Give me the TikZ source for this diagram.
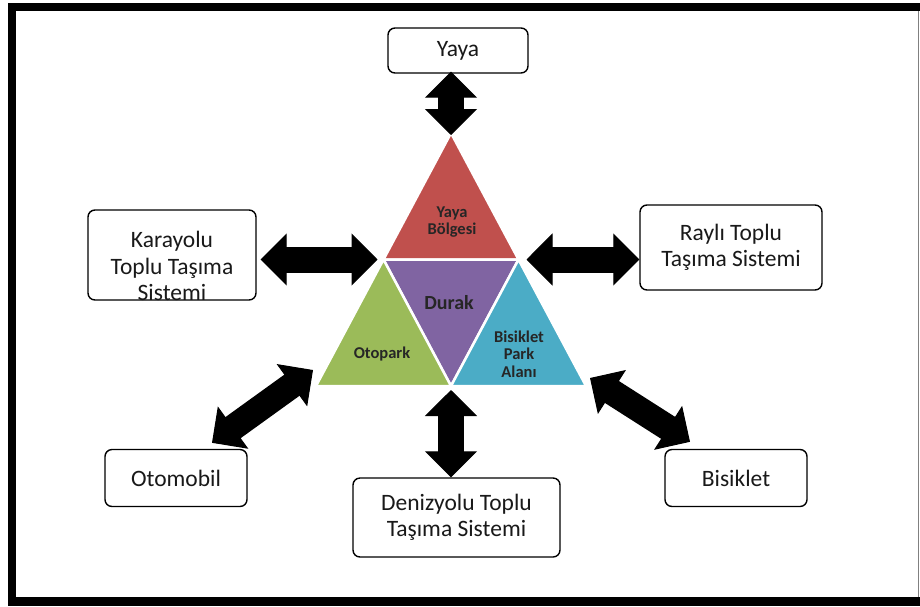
\documentclass[tikz,border=0pt]{standalone}
\usepackage{fontspec}
\setmainfont{Carlito}
\usetikzlibrary{arrows.meta,positioning}
\definecolor{yayacolor}{RGB}{192, 80, 77}
\definecolor{durakcolor}{RGB}{128, 100, 162}
\definecolor{otoparkcolor}{RGB}{155, 187, 89}
\definecolor{bisikletcolor}{RGB}{75, 172, 198}

\begin{document}
\begin{tikzpicture}[
    x=1pt, y=-1pt,
    box/.style={rectangle, draw, line width=1.4pt, rounded corners=7pt, fill=white, align=center, inner sep=0pt},
    boxtext/.style={align=center, text=black!90, font=\fontsize{23.5}{26.5}\selectfont},
    zone/.style={align=center, text=black!85, font=\bfseries\fontsize{16.5}{17.5}\selectfont},
    piece/.style={draw=white, line width=2.5pt, line join=miter},
    link/.style={line width=26pt, shorten <=20pt, shorten >=20pt,
        postaction={draw, line width=1pt, shorten <=0pt, shorten >=0pt,
            {Triangle[length=26pt,width=52pt]}-{Triangle[length=26pt,width=52pt]}}},
]
    \useasboundingbox (0,0) rectangle (920,606);

    % Frame
    \fill (8,3) rectangle (920,11);
    \fill (8,3) rectangle (16,606);
    \fill (8,597) rectangle (920,606);
    \draw[gray, line width=1pt] (918,11) -- (918,597);

    % === TRIANGLE ===
    \coordinate (apex) at (451,133);
    \coordinate (bl) at (316,386);
    \coordinate (br) at (586,386);
    \coordinate (ml) at (383.5,259.5);
    \coordinate (mr) at (518.5,259.5);
    \coordinate (mb) at (451,386);

    \path[piece, fill=yayacolor] (apex) -- (ml) -- (mr) -- cycle;
    \path[piece, fill=durakcolor] (ml) -- (mr) -- (mb) -- cycle;
    \path[piece, fill=otoparkcolor] (ml) -- (mb) -- (bl) -- cycle;
    \path[piece, fill=bisikletcolor] (mr) -- (br) -- (mb) -- cycle;

    \node[zone] (bolge) at (452,222) {Yaya\\Bölgesi};
    \node[zone, font=\bfseries\fontsize{20}{21}\selectfont] (durak) at (449,303) {Durak};
    \node[zone] (otopark) at (382,354) {Otopark};
    \node[zone] (bispark) at (519,354) {Bisiklet\\Park\\Alanı};

    % === BOXES ===
    \node[box, boxtext, minimum width=140pt, minimum height=45pt] (yaya) at (458,50.5) {Yaya};
    \node[box, minimum width=168pt, minimum height=90pt] (karayolu) at (172,255) {};
    \node[boxtext] (karayoluText) at ([yshift=-11pt]karayolu.center) {Karayolu\\Toplu Taşıma\\Sistemi};
    \node[box, boxtext, minimum width=182pt, minimum height=85pt] (rayli) at (731,247.5) {Raylı Toplu\\Taşıma Sistemi};
    \node[box, boxtext, minimum width=142pt, minimum height=57pt] (otomobil) at (176,478) {Otomobil};
    \node[box, boxtext, minimum width=142pt, minimum height=57pt] (bisiklet) at (736,478) {Bisiklet};
    \node[box, boxtext, minimum width=207pt, minimum height=79pt] (denizyolu) at (456.5,517.5) {Denizyolu Toplu\\Taşıma Sistemi};

    % === ARROWS ===
    \draw[link] ([yshift=2pt]apex |- yaya.south) -- ([yshift=-2pt]apex);
    \draw[link] ([xshift=4pt]ml -| karayolu.east) -- ([xshift=-6pt]ml);
    \draw[link] ([xshift=8pt]mr) -- (mr -| rayli.west);
    \draw[link] ([yshift=-4pt]mb) -- (mb |- denizyolu.north);
    \draw[link] ([xshift=36pt,yshift=6pt]otomobil.north) -- ([xshift=-3pt,yshift=16pt]bl);
    \draw[link] ([xshift=-46pt,yshift=7pt]bisiklet.north) -- ([xshift=4pt,yshift=8pt]br);

\end{tikzpicture}
\end{document}
